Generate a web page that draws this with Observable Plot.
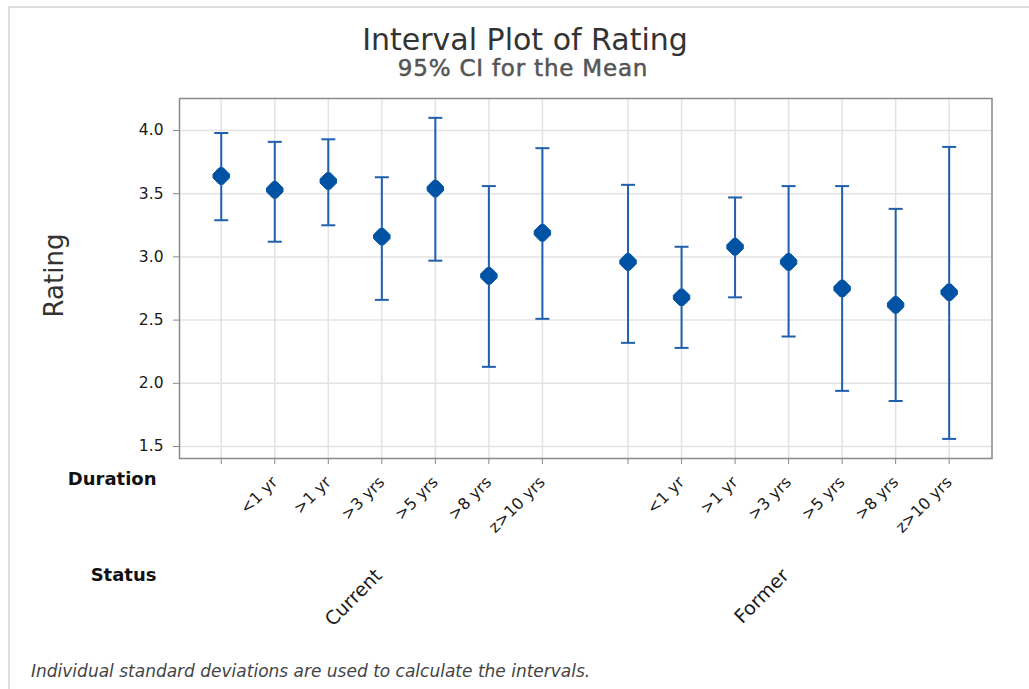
<!DOCTYPE html>
<html><head><meta charset="utf-8">
<script src="https://cdn.jsdelivr.net/npm/d3@7"></script>
<script src="https://cdn.jsdelivr.net/npm/@observablehq/plot@0.6"></script>
<style>
body{margin:0;background:#fff;font-family:"DejaVu Sans",sans-serif;}
#wrap{position:relative;width:1029px;height:689px;overflow:hidden;background:#fff;}
#border{position:absolute;left:8px;top:6px;width:1100px;height:800px;border-left:2px solid #dedede;border-top:2px solid #dedede;}
#title{position:absolute;left:0;width:1050px;top:22px;text-align:center;font-size:30px;line-height:36px;color:#333;}
#subtitle{position:absolute;left:0;width:1046px;top:54px;text-align:center;font-size:23px;line-height:28px;color:#555;letter-spacing:0.8px;-webkit-text-stroke:0.5px #555;}
#chart{position:absolute;left:0;top:80px;}
#caption{position:absolute;left:31px;top:661px;font-size:17px;line-height:20px;font-style:italic;color:#444;}
</style></head>
<body><div id="wrap">
<div id="border"></div>
<div id="title">Interval Plot of Rating</div>
<div id="subtitle">95% CI for the Mean</div>
<div id="chart"></div>
<div id="caption">Individual standard deviations are used to calculate the intervals.</div>
</div>
<script>
const statuses = ["Current", "Former"];
const durations = ["", "<1 yr", ">1 yr", ">3 yrs", ">5 yrs", ">8 yrs", "z>10 yrs"];
const currentMean  = [3.64, 3.53, 3.60, 3.16, 3.54, 2.85, 3.19];
const currentLower = [3.29, 3.12, 3.25, 2.66, 2.97, 2.13, 2.51];
const currentUpper = [3.98, 3.91, 3.93, 3.63, 4.10, 3.56, 3.86];
const formerMean   = [2.96, 2.68, 3.08, 2.96, 2.75, 2.62, 2.72];
const formerLower  = [2.32, 2.28, 2.68, 2.37, 1.94, 1.86, 1.56];
const formerUpper  = [3.57, 3.08, 3.47, 3.56, 3.56, 3.38, 3.87];
const yTicks = [1.5, 2.0, 2.5, 3.0, 3.5, 4.0];

const groupStep = durations.length + 0.6;
const series = [
  {mean: currentMean, lower: currentLower, upper: currentUpper},
  {mean: formerMean, lower: formerLower, upper: formerUpper}
];
const data = [];
statuses.forEach((s, gi) => {
  durations.forEach((d, di) => {
    data.push({status: s, duration: d, pos: gi * groupStep + di,
      mean: series[gi].mean[di], lower: series[gi].lower[di], upper: series[gi].upper[di]});
  });
});
const positions = data.map(d => d.pos);
const labelOf = new Map(data.map(d => [d.pos, d.duration]));
const statusPos = statuses.map((s, gi) => gi * groupStep + (durations.length - 1) / 2);
const statusOf = new Map(statuses.map((s, gi) => [statusPos[gi], s]));

const markerSymbol = {draw(ctx) {
  const w = 8.2, f = 2;
  ctx.moveTo(w, -f); ctx.lineTo(w, f); ctx.lineTo(f, w); ctx.lineTo(-f, w);
  ctx.lineTo(-w, f); ctx.lineTo(-w, -f); ctx.lineTo(-f, -w); ctx.lineTo(f, -w); ctx.closePath();
}};
const capSymbol = {draw(ctx) { ctx.moveTo(-7, 0); ctx.lineTo(7, 0); }};

const lineColor = "#1f5fae";
const markColor = "#0053a4";
const fontFam = "'DejaVu Sans', sans-serif";

const plot = Plot.plot({
  width: 1029, height: 580,
  marginLeft: 179, marginRight: 37.5, marginTop: 18, marginBottom: 202,
  style: {fontFamily: fontFam, background: "transparent", overflow: "visible"},
  x: {domain: [-0.78, groupStep + durations.length - 1 + 0.8]},
  y: {domain: [1.405, 4.253]},
  marks: [
    Plot.gridX(positions, {stroke: "#e3e3e3", strokeOpacity: 1, strokeWidth: 1.5}),
    Plot.gridY(yTicks, {stroke: "#e3e3e3", strokeOpacity: 1, strokeWidth: 1.5}),
    Plot.frame({stroke: "#8a8a8a", strokeWidth: 1.5}),
    Plot.ruleX(data, {x: "pos", y1: "lower", y2: "upper", stroke: lineColor, strokeWidth: 2}),
    Plot.dot(data, {x: "pos", y: "upper", symbol: capSymbol, stroke: lineColor, strokeWidth: 2, fill: "none"}),
    Plot.dot(data, {x: "pos", y: "lower", symbol: capSymbol, stroke: lineColor, strokeWidth: 2, fill: "none"}),
    Plot.dot(data, {x: "pos", y: "mean", symbol: markerSymbol, fill: markColor, stroke: markColor, strokeWidth: 1}),
    Plot.axisY({ticks: yTicks, tickFormat: d3.format(".1f"), tickSize: 6, tickPadding: 10, fontSize: 15.5, color: "#1a1a1a", stroke: "#888", label: null}),
    Plot.axisX({ticks: positions, tickFormat: d => labelOf.get(d), tickSize: 6, tickPadding: 15, tickRotate: -45, fontSize: 16, color: "#1a1a1a", stroke: "#888", label: null}),
    Plot.axisX({ticks: statusPos, tickFormat: d => statusOf.get(d), tickSize: 0, tickPadding: 114, dx: -3, tickRotate: -45, fontSize: 19, color: "#1a1a1a", label: null}),
    Plot.text(["Rating"], {frameAnchor: "left", dx: -125, dy: -3, rotate: -90, fontSize: 26, fill: "#333", textAnchor: "middle"}),
    Plot.text(["Duration"], {frameAnchor: "bottom-left", dx: -23, dy: 26, textAnchor: "end", fontSize: 18, fontWeight: "bold", fill: "#111"}),
    Plot.text(["Status"], {frameAnchor: "bottom-left", dx: -23, dy: 122, textAnchor: "end", fontSize: 18, fontWeight: "bold", fill: "#111"})
  ]
});
document.getElementById("chart").appendChild(plot);
</script>
</body></html>
